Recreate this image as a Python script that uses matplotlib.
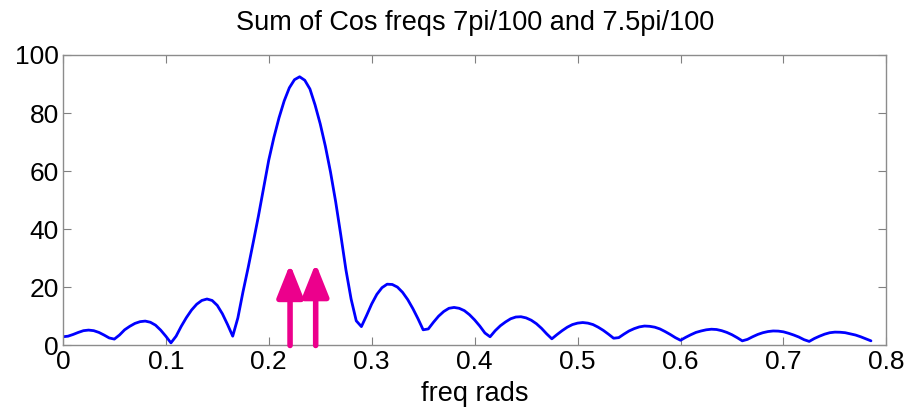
import matplotlib
matplotlib.use("Agg")
import matplotlib.pyplot as plt

# Curve values (x in rad, 0.005 steps)
freq = [round(i * 0.005, 3) for i in range(158)]
mag = [
    3.0, 3.2, 3.8, 4.5, 5.1, 5.3, 5.1, 4.5, 3.6, 2.6,   # 0.000-0.045
    2.2, 3.6, 5.4, 6.6, 7.6, 8.2, 8.4, 8.0, 7.0, 5.3,   # 0.050-0.095
    3.2, 0.9, 3.2, 6.6, 9.6, 12.2, 14.2, 15.5, 16.0, 15.5,  # 0.100-0.145
    13.8, 10.9, 7.2, 3.2, 9.5, 18.5, 26.8, 35.6, 44.6, 54.2,  # 0.150-0.195
    63.8, 71.6, 78.4, 84.2, 88.7, 91.5, 92.5, 91.3, 88.3, 82.8,  # 0.200-0.245
    76.3, 68.6, 59.7, 49.5, 38.0, 26.0, 16.0, 8.5, 6.5, 10.3,  # 0.250-0.295
    14.3, 17.6, 19.9, 21.1, 21.0, 20.1, 18.3, 15.8, 12.7, 9.2,  # 0.300-0.345
    5.4, 5.7, 8.0, 10.1, 11.7, 12.8, 13.1, 12.8, 12.0, 10.6,  # 0.350-0.395
    8.8, 6.7, 4.3, 3.0, 5.1, 6.8, 8.1, 9.2, 9.8, 9.9,   # 0.400-0.445
    9.5, 8.7, 7.5, 5.9, 4.0, 2.3, 3.75, 5.1, 6.3, 7.2,  # 0.450-0.495
    7.7, 7.9, 7.7, 7.2, 6.3, 5.2, 3.9, 2.5, 2.7, 3.9,   # 0.500-0.545
    5.0, 5.8, 6.4, 6.7, 6.6, 6.3, 5.7, 4.8, 3.8, 2.7,   # 0.550-0.595
    1.8, 2.8, 3.7, 4.5, 5.0, 5.4, 5.6, 5.5, 5.1, 4.5,   # 0.600-0.645
    3.7, 2.7, 1.6, 2.1, 3.0, 3.8, 4.4, 4.8, 5.0, 4.95,  # 0.650-0.695
    4.7, 4.2, 3.6, 2.9, 2.0, 1.4, 2.4, 3.2, 3.9, 4.4,   # 0.700-0.745
    4.6, 4.56, 4.4, 4.0, 3.6, 3.0, 2.3, 1.6,            # 0.750-0.785
]

# Hand-drawn markers at the two cosine frequencies
arrow_x = [0.2207, 0.2456]
arrow_top = [28.0, 28.3]

x_ticks = [0, 0.1, 0.2, 0.3, 0.4, 0.5, 0.6, 0.7, 0.8]
x_ticklabels = ["0", "0.1", "0.2", "0.3", "0.4", "0.5", "0.6", "0.7", "0.8"]
y_ticks = [0, 20, 40, 60, 80, 100]

plt.rcParams["font.family"] = ["Liberation Sans", "DejaVu Sans"]

fig = plt.figure(figsize=(9.11, 4.15), dpi=100)
ax = fig.add_axes([0.069, 0.1675, 0.904, 0.70])

ax.plot(freq, mag, color="#0000FF", lw=2.0, solid_joinstyle="round",
        solid_capstyle="round")

for xa, ya in zip(arrow_x, arrow_top):
    ax.annotate("", xy=(xa, ya), xytext=(xa, 0),
                arrowprops=dict(arrowstyle="-|>,head_length=0.5,head_width=0.2",
                                lw=4.0, color="#EC008C", mutation_scale=40,
                                shrinkA=0, shrinkB=0, joinstyle="round"))

ax.set_xlim(0, 0.8)
ax.set_ylim(0, 100)
ax.set_xticks(x_ticks)
ax.set_xticklabels(x_ticklabels)
ax.set_yticks(y_ticks)
ax.tick_params(direction="in", top=True, right=True, length=6, width=0.8,
               color="#808080", labelsize=19, pad=3)
for s in ax.spines.values():
    s.set_color("#8c8c8c")
    s.set_linewidth(1.0)

ax.set_title("Sum of Cos freqs 7pi/100 and 7.5pi/100", fontsize=19.5, pad=18)
ax.set_xlabel("freq rads", fontsize=19.5, labelpad=5)

fig.savefig("out.png", dpi=100)
